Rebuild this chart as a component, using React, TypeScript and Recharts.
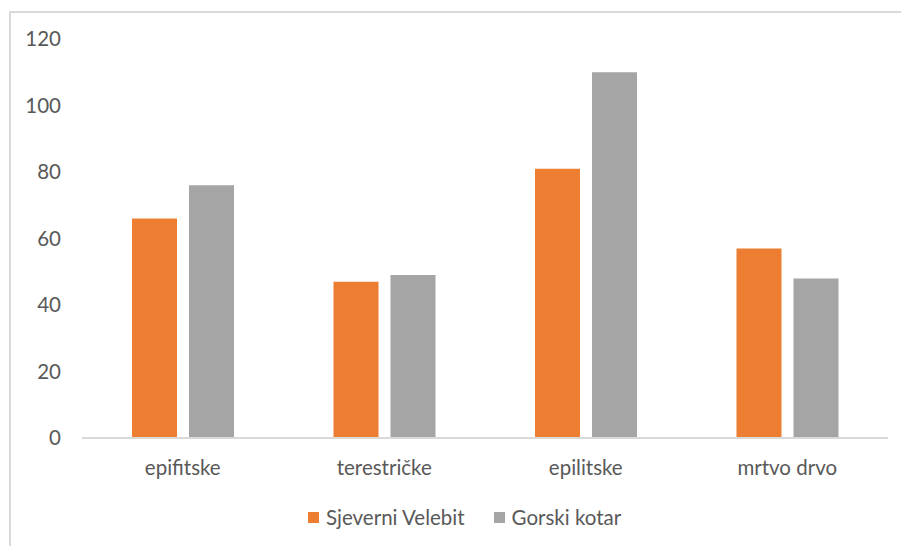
import { BarChart, Bar, XAxis, YAxis } from "recharts"

const categories = ["epifitske", "terestričke", "epilitske", "mrtvo drvo"]
const sjeverniVelebit = [66, 47, 81, 57]
const gorskiKotar = [76, 49, 110, 48]
const yTicks = [0, 20, 40, 60, 80, 100, 120]

const series = [
  { key: "velebit", name: "Sjeverni Velebit", color: "#ED7D31" },
  { key: "gorski", name: "Gorski kotar", color: "#A5A5A5" },
]

const data = categories.map((c, i) => ({
  name: c,
  velebit: sjeverniVelebit[i],
  gorski: gorskiKotar[i],
}))

const font = "Lato, 'Open Sans', sans-serif"

export default function App() {
  return (
    <div
      style={{
        position: "absolute",
        left: 0,
        top: 0,
        width: 901,
        height: 546,
        overflow: "hidden",
        background: "#fff",
        fontFamily: font,
      }}
    >
      {/* chart frame, runs off the right and bottom */}
      <div
        style={{
          position: "absolute",
          left: 9,
          top: 11,
          width: 1000,
          height: 700,
          border: "2px solid #d9d9d9",
          boxSizing: "border-box",
        }}
      />

      <div style={{ position: "absolute", left: 0, top: 0 }}>
        <BarChart
          width={901}
          height={546}
          data={data}
          margin={{ top: 39, right: 13, bottom: 0, left: 0 }}
          barGap={12}
          barCategoryGap={50}
        >
          <XAxis
            dataKey="name"
            height={108}
            axisLine={{ stroke: "#d9d9d9", strokeWidth: 2 }}
            tickLine={false}
            tickSize={0}
            tickMargin={22}
            tick={{ fill: "#595959", fontSize: 20.5, fontFamily: font }}
          />
          <YAxis
            width={82}
            domain={[0, 120]}
            ticks={yTicks}
            axisLine={false}
            tickLine={false}
            tickSize={0}
            tickMargin={21}
            tick={{ fill: "#595959", fontSize: 20.5, fontFamily: font }}
          />
          {series.map((s) => (
            <Bar
              key={s.key}
              dataKey={s.key}
              name={s.name}
              fill={s.color}
              isAnimationActive={false}
            />
          ))}
        </BarChart>
      </div>

      {/* legend */}
      <div
        style={{
          position: "absolute",
          left: 308,
          top: 505,
          display: "flex",
          alignItems: "center",
          fontSize: 20.5,
          color: "#595959",
          whiteSpace: "nowrap",
        }}
      >
        {series.map((s, i) => (
          <div
            key={s.key}
            style={{ display: "flex", alignItems: "center", marginRight: i === 0 ? 29 : 0 }}
          >
            <span
              style={{
                display: "inline-block",
                width: 11,
                height: 11,
                background: s.color,
                marginRight: 7,
              }}
            />
            <span>{s.name}</span>
          </div>
        ))}
      </div>
    </div>
  )
}
